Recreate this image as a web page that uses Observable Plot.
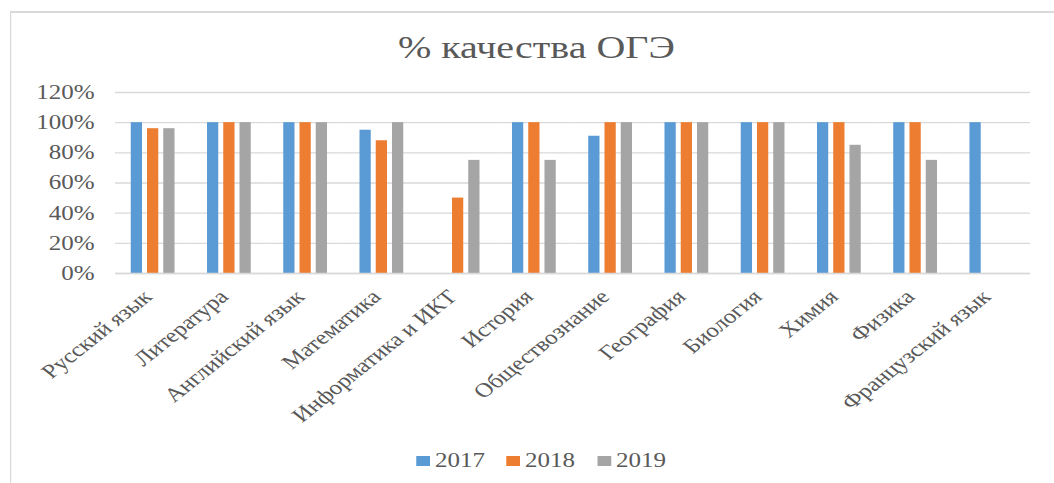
<!DOCTYPE html>
<html>
<head>
<meta charset="utf-8">
<script src="https://cdn.jsdelivr.net/npm/d3@7"></script>
<script src="https://cdn.jsdelivr.net/npm/@observablehq/plot@0.6"></script>
<style>
  html, body { margin: 0; padding: 0; background: #fff; overflow: hidden; }
  #wrap { position: absolute; left: 0; top: 0; width: 843.2px; height: 483px;
          transform: scaleX(1.25); transform-origin: 0 0;
          font-family: "Liberation Serif", "Times New Roman", serif; color: #595959; }
  #wrap svg { position: absolute; left: 0; top: 0; }
  #frame { position: absolute; left: 7.6px; top: 10.5px; width: 900px; height: 520px;
           border-left: 1.6px solid #d9d9d9; border-top: 2px solid #d9d9d9; }
  #title { position: absolute; left: 0; width: 858.2px; top: 31px; text-align: center;
           font-size: 32px; line-height: 32px; white-space: nowrap; }
  .lg-sw { position: absolute; width: 11.7px; height: 10px; top: 456px; }
  .lg-tx { position: absolute; top: 450px; font-size: 20px; line-height: 20px; }
</style>
</head>
<body>
<div id="wrap">
  <div id="frame"></div>
  <div id="title">% качества ОГЭ</div>
</div>
<script>
const subjects = ["Русский язык", "Литература", "Английский язык", "Математика",
  "Информатика и ИКТ", "История", "Обществознание", "География", "Биология",
  "Химия", "Физика", "Французский язык"];
const years = ["2017", "2018", "2019"];
const v2017 = [100, 100, 100, 95, null, 100, 91, 100, 100, 100, 100, 100];
const v2018 = [96, 100, 100, 88, 50, 100, 100, 100, 100, 100, 100, null];
const v2019 = [96, 100, 100, 100, 75, 75, 100, 100, 100, 85, 75, null];
const colors = ["#5b9bd5", "#ed7d31", "#a5a5a5"];
const yTicks = [0, 0.2, 0.4, 0.6, 0.8, 1.0, 1.2];

const series = [v2017, v2018, v2019];
const rows = [];
subjects.forEach((s, i) => {
  years.forEach((y, j) => {
    const v = series[j][i];
    if (v != null) rows.push({subject: s, year: y, value: v / 100});
  });
});

const chart = Plot.plot({
  width: 843.2,
  height: 483,
  marginTop: 92,
  marginBottom: 210,
  marginLeft: 90.4,
  marginRight: 18.4,
  style: {fontFamily: '"Liberation Serif", "Times New Roman", serif', fontSize: "20px",
          color: "#595959", background: "transparent", overflow: "visible"},
  fx: {domain: subjects, padding: 0, label: null},
  x: {domain: years, paddingInner: 0.276, paddingOuter: 0.888, axis: null},
  y: {domain: [0, 1.2], axis: null},
  color: {domain: years, range: colors},
  marks: [
    Plot.gridY(yTicks, {stroke: "#d9d9d9", strokeOpacity: 1, strokeWidth: 1.3}),
    Plot.axisY(yTicks, {tickFormat: d3.format(".0%"), tickSize: 0, tickPadding: 16.8,
                        fontSize: 20, fill: "#595959", label: null}),
    Plot.barY(rows, {fx: "subject", x: "year", y: "value", fill: "year"}),
    Plot.ruleY([0], {stroke: "#d9d9d9", strokeWidth: 1.3}),
    Plot.axisFx({anchor: "bottom", tickRotate: -45, tickSize: 0, tickPadding: 20,
                 dx: -4.8, fontSize: 20, fill: "#595959", label: null})
  ]
});

const wrap = document.getElementById("wrap");
wrap.insertBefore(chart, wrap.firstChild);

const lgX = [[332.8, 348], [404.8, 420], [477.6, 492.8]];
years.forEach((y, j) => {
  const sw = document.createElement("div");
  sw.className = "lg-sw";
  sw.style.left = lgX[j][0] + "px";
  sw.style.background = colors[j];
  wrap.appendChild(sw);
  const tx = document.createElement("div");
  tx.className = "lg-tx";
  tx.style.left = lgX[j][1] + "px";
  tx.textContent = y;
  wrap.appendChild(tx);
});
</script>
</body>
</html>
